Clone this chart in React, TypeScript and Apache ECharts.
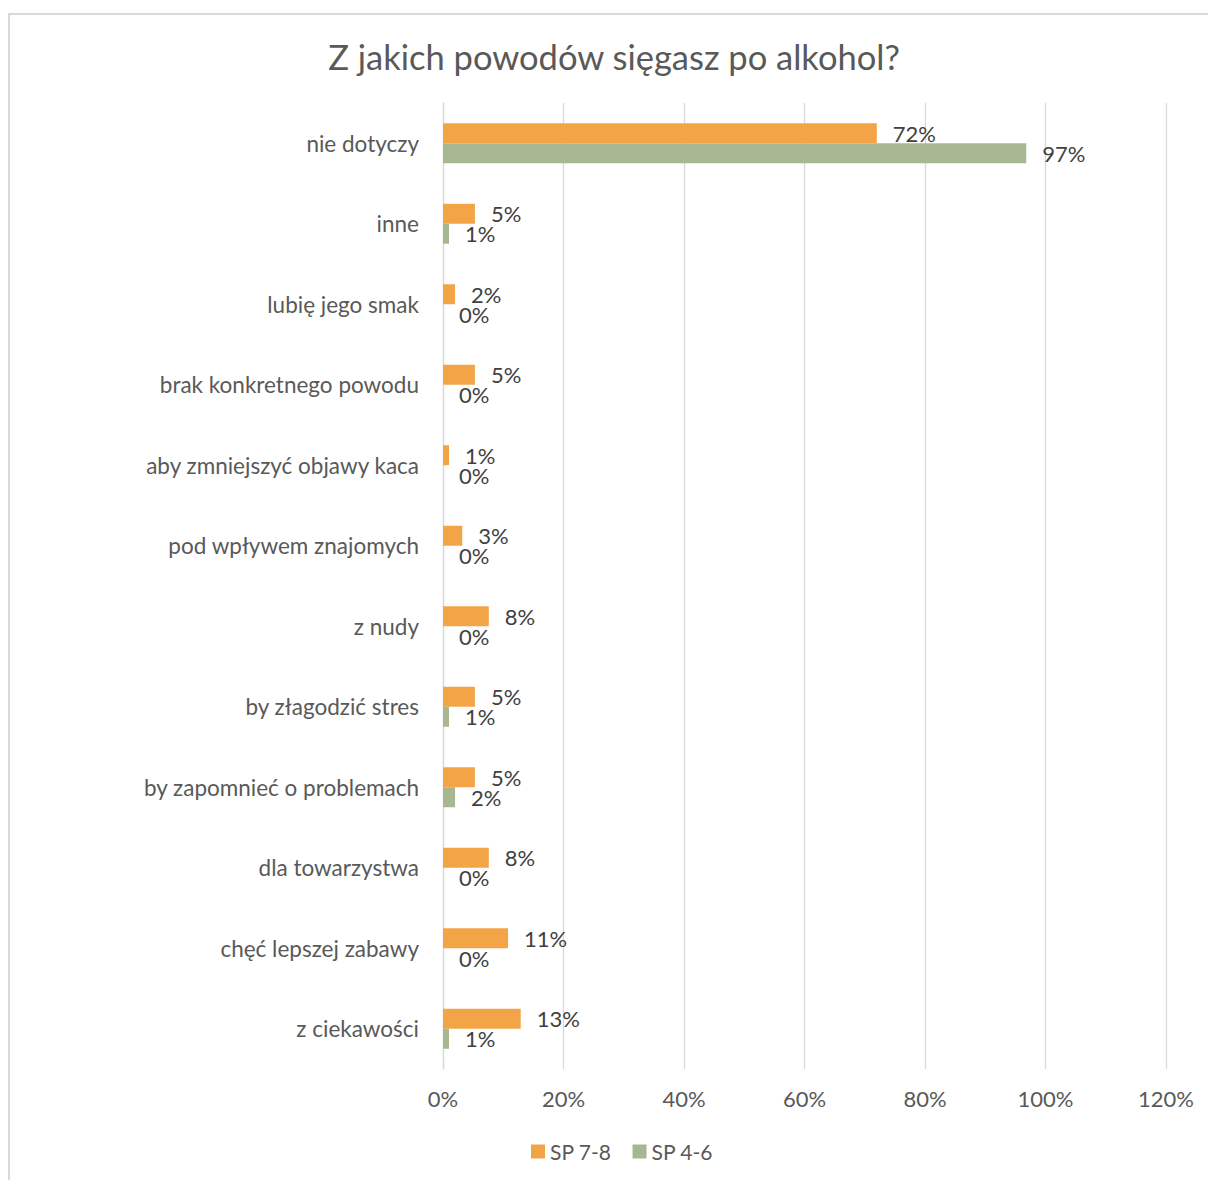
import React, { useEffect, useRef } from "react";
import * as echarts from "echarts";

const categories = [
  "nie dotyczy",
  "inne",
  "lubię jego smak",
  "brak konkretnego powodu",
  "aby zmniejszyć objawy kaca",
  "pod wpływem znajomych",
  "z nudy",
  "by złagodzić stres",
  "by zapomnieć o problemach",
  "dla towarzystwa",
  "chęć lepszej zabawy",
  "z ciekawości",
];
const sp78 = [72, 5.3, 2, 5.3, 1, 3.2, 7.6, 5.3, 5.3, 7.6, 10.8, 12.9];
const sp46 = [96.8, 1, 0, 0, 0, 0, 0, 1, 2, 0, 0, 1];
const seriesNames = ["SP 7-8", "SP 4-6"];
const xTicks = { min: 0, max: 120, interval: 20 };
const titleText = "Z jakich powodów sięgasz po alkohol?";

const FONT = "Lato";
const ORANGE = "#F3A447";
const GREEN = "#A7B891";

export default function App() {
  const ref = useRef<HTMLDivElement>(null);
  useEffect(() => {
    if (!ref.current) return;
    const chart = echarts.init(ref.current, undefined, { renderer: "svg" });
    const label = {
      show: true,
      position: "right" as const,
      distance: 16,
      color: "#404040",
      fontFamily: FONT,
      fontSize: 22,
      formatter: (p: any) => Math.round(p.value) + "%",
    };
    chart.setOption({
      animation: false,
      textStyle: { fontFamily: FONT },
      graphic: [
        {
          type: "text",
          x: 604,
          y: 41,
          style: {
            text: titleText,
            fontFamily: FONT,
            fontSize: 34.5,
            fill: "#595959",
            textAlign: "center",
            textVerticalAlign: "middle",
          },
        },
      ],
      legend: {
        left: 516,
        top: 1121,
        itemWidth: 14,
        itemHeight: 14,
        itemGap: 21,
        icon: "rect",
        textStyle: { fontFamily: FONT, fontSize: 21, color: "#595959" },
        data: seriesNames,
      },
      grid: { left: 433, right: 42, top: 88, bottom: 111, containLabel: false },
      xAxis: {
        type: "value",
        min: xTicks.min,
        max: xTicks.max,
        interval: xTicks.interval,
        axisLine: { show: false },
        axisTick: { show: false },
        splitLine: { show: true, lineStyle: { color: "#D9D9D9", width: 1.3 } },
        axisLabel: {
          formatter: "{value}%",
          fontFamily: FONT,
          fontSize: 22,
          color: "#595959",
          margin: 18,
        },
      },
      yAxis: {
        type: "category",
        inverse: true,
        data: categories,
        axisLine: { show: true, lineStyle: { color: "#D9D9D9", width: 1.3 } },
        axisTick: { show: false },
        axisLabel: {
          fontFamily: FONT,
          fontSize: 22.5,
          color: "#595959",
          margin: 24,
        },
      },
      series: [
        {
          name: seriesNames[0],
          type: "bar",
          data: sp78,
          barWidth: 20,
          barGap: "0%",
          itemStyle: { color: ORANGE },
          label,
        },
        {
          name: seriesNames[1],
          type: "bar",
          data: sp46,
          barWidth: 20,
          barGap: "0%",
          itemStyle: { color: GREEN },
          label,
        },
      ],
    });
    return () => chart.dispose();
  }, []);
  return (
    <div
      style={{
        position: "absolute",
        left: 8,
        top: 13,
        width: 1200,
        height: 1167,
        boxSizing: "border-box",
        borderTop: "2px solid #D9D9D9",
        borderLeft: "2px solid #D9D9D9",
        background: "#fff",
      }}
    >
      <div ref={ref} style={{ width: 1198, height: 1165 }} />
    </div>
  );
}
